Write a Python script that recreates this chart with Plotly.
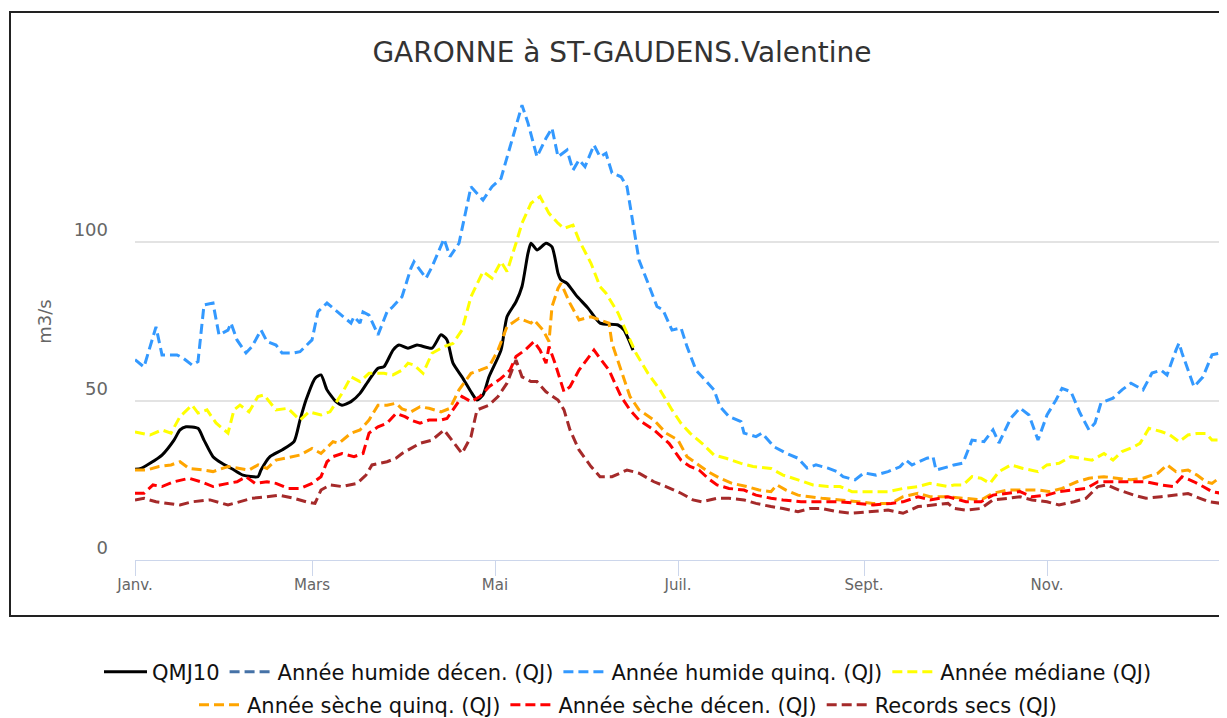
import pandas as pd
import plotly.graph_objects as go

YEAR_START = pd.Timestamp("2023-01-01")

# (day of year, m3/s)
qmj10 = [(0,28.5),(2,28.8),(5,30.4),(9,33),(13,37.7),(15,40.9),(17,41.9),(21,41.4),(23,37.7),(26,32.5),
         (29,30.4),(33,28.3),(36,26.7),(41,26.2),(42,28.3),(45,32.5),(49,34.6),(53,37.2),(55,44),(57,50.3),
         (60,57.1),(62,58.2),(64,53.5),(67,49.8),(69,48.7),(72,49.8),(75,52.4),(78,56.6),(81,60.3),(83,60.8),
         (86,66),(88,67.6),(91,66.6),(94,67.6),(99,66.6),(102,70.8),(104,69.2),(106,61.9),(109,57.6),(112,52.9),
         (114,50.3),(116,51.9),(118,57.6),(122,66),(124,76.5),(127,81.2),(129,86),(131,96.5),(132,99.6),(134,97.5),
         (137,99.6),(139,98.5),(141,90.2),(142,88.1),(144,87),(147,83.3),(151,79.2),(155,74.5),(161,73.9),(163,72.3),
         (166,66)]

humide_decen = []  # listed in the legend, no curve drawn in the reference

humide_quinq = [(0,63),(3,60.7),(7,73.3),(9,64.5),(14,64.5),(16,63.5),(19,61.3),(21,62.4),(23,80.2),(26,80.8),
                (28,70.8),(31,72.3),(32,74.5),(34,69.2),(37,65.1),(39,67.1),(42,72.3),(44,68.7),(47,67.6),(49,65.1),
                (53,65.1),(55,65.5),(59,69.2),(61,78.1),(64,80.8),(68,77.7),(72,74.5),(73,76.5),(75,74.5),(76,78),
                (78,77),(81,70.8),(84,78),(86,79.7),(89,82.8),(92,91.8),(93,93.8),(97,88.6),(99,92.2),(103,101),
                (105,95.4),(108,99.6),(112,117.4),(116,113.2),(119,117.4),(122,120),(124,126.8),(127,136.3),(129,143),(131,137.4),
                (134,126.8),(137,132.6),(139,135.8),(141,126.8),(144,128.9),(146,122.6),(148,125.8),(150,123.7),(153,130.5),(155,126.8),
                (157,127.9),(159,121.7),(162,120.5),(164,117.4),(166,106),(168,94.3),(171,87.1),(174,79.7),(176,78.6),(178,74.5),
                (179,72.3),(182,73),(184,67.1),(187,59.7),(191,55.6),(193,53.5),(195,48.2),(198,45.1),(202,43.5),(203,39.9),
                (207,38.8),(209,39.9),(213,35.6),(217,33.6),(221,32),(224,28.9),(227,29.9),(231,28.9),(234,27.8),(236,26.2),
                (240,25.2),(243,27.4),(247,26.7),(251,27.8),(255,29.3),(257,31.4),(259,29.9),(264,32),(266,32.5),(267,28.3),
                (271,29.3),(273,29.9),(276,30.5),(279,37.7),(283,37.2),(286,40.9),(288,36.8),(292,44.7),(295,47.8),(298,45.6),
                (301,37.7),(304,45.6),(307,50.3),(309,54),(312,52.9),(315,46.2),(318,40.9),(320,43.1),(322,49.4),(326,50.9),
                (329,53.5),(332,55.6),(336,53.5),(339,58.8),(342,59.7),(344,58.2),(347,66),(348,68.2),(349,65.1),(353,54.5),
                (356,57.6),(359,64.5),(362,65.1)]

mediane = [(0,40.3),(5,39.3),(9,40.9),(12,39.9),(15,45.1),(19,48.7),(21,46.2),(24,47.2),(27,43.1),(31,39.9),
           (33,47.2),(35,48.7),(38,46.6),(41,51.4),(43,51.9),(47,47.2),(51,47.7),(55,44),(58,46.6),(62,45.6),
           (65,46.6),(69,52.4),(72,57.6),(75,56.1),(78,58.7),(83,58.7),(86,58.2),(89,59.7),(91,61.9),(93,61.3),
           (96,58.7),(99,65),(103,67.1),(106,68.1),(109,72.3),(112,82.8),(116,90.7),(119,88.6),(122,93.8),(124,90.7),
           (127,99.6),(129,105.9),(132,112.2),(135,114.3),(138,109),(141,105.9),(143,104.3),(146,105.3),(148,100.6),(152,93.3),
           (155,86),(157,83.9),(161,77.7),(164,71.3),(167,65),(171,58.7),(175,53.5),(179,47.2),(182,43),(185,39.9),
           (189,36.7),(193,33),(197,32),(202,30.4),(206,29.4),(212,28.8),(216,26.7),(221,25.2),(226,23.6),(231,23.1),
           (235,23.1),(239,21.5),(245,21.5),(251,21.5),(256,22.5),(261,23.1),(265,24.1),(271,23.1),(273,23.6),(276,23.6),
           (279,26.2),(282,25.7),(285,24.1),(288,27.8),(292,29.9),(296,28.8),(301,27.8),(304,29.9),(308,30.4),(312,32.5),
           (315,32),(319,31.4),(323,33.5),(326,31.4),(329,34.1),(333,35.6),(335,36.7),(338,41.4),(342,40.4),(345,39.3),
           (348,37.2),(351,39.3),(354,39.8),(357,39.8),(359,37.7),(362,37.7)]

seche_quinq = [(0,28.3),(4,28.3),(8,29.4),(12,29.9),(15,30.9),(18,28.8),(23,28.3),(26,27.8),(31,29.4),(35,28.8),
               (38,28.3),(41,29.9),(44,28.8),(47,31.4),(52,32.5),(55,33),(59,35.1),(62,33.5),(66,37.2),(68,36.7),
               (72,39.9),(75,40.9),(78,44),(81,48.7),(84,48.7),(87,49.3),(89,47.5),(92,46.6),(95,48.2),(98,47.7),
               (102,46.6),(105,47.7),(108,53.5),(112,58.7),(115,59.7),(118,60.8),(121,66),(124,73.4),(128,76),(132,74.5),
               (133,75.5),(136,72.3),(138,68.7),(139,79.7),(141,85.4),(142,87),(145,80.7),(148,75.5),(152,76.5),(155,75.5),
               (158,74.5),(159,68.1),(162,59.7),(165,51.4),(168,47.2),(173,44),(177,39.9),(181,37.7),(184,32.5),(187,30.4),
               (191,27.8),(195,25.7),(199,24.1),(204,23.1),(208,22),(212,21.5),(214,23.6),(217,22),(221,20.4),(225,19.9),
               (229,19.4),(235,18.9),(241,18.3),(246,17.8),(252,17.8),(256,19.9),(261,21),(265,19.9),(271,19.9),(277,19.4),
               (282,18.9),(286,21),(291,22),(296,22),(301,22),(305,21.5),(309,22.5),(314,24.6),(318,25.7),(323,26.2),
               (327,25.7),(332,25.2),(336,25.7),(341,27.3),(344,29.9),(347,27.8),(351,28.3),(354,26.7),(357,24.6),(359,24.1),
               (362,26.2)]

seche_decen = [(0,21),(3,21),(6,23.6),(9,23.1),(13,24.6),(18,25.7),(22,24.6),(26,23.1),(31,24.1),(34,24.6),
               (37,26.2),(40,24.1),(44,24.6),(47,24.1),(51,22.5),(55,22.5),(59,24.1),(62,26.2),(64,30.9),(66,32.5),
               (69,33.5),(73,32.5),(76,33.5),(78,39.9),(81,41.9),(84,43),(87,46.1),(90,45.1),(92,44),(95,43),
               (98,44),(102,44),(104,44.5),(106,47.2),(109,51.4),(112,49.8),(115,51.4),(118,54.5),(122,57.1),(125,59.7),
               (127,64),(130,66),(133,68.7),(135,66),(137,61.9),(138,67.1),(140,61.9),(143,52.9),(145,54.5),(148,59.7),
               (153,66),(155,63.4),(158,59.7),(162,51.4),(165,47.2),(168,44),(173,40.9),(178,36.7),(182,31.4),(185,29.4),
               (188,28.3),(191,25.7),(194,23.6),(198,22.5),(203,22),(207,20.4),(212,19.4),(216,18.9),(222,18.3),(228,18.3),
               (235,18.3),(241,17.8),(246,17.3),(252,17.8),(256,18.3),(261,19.9),(265,18.9),(271,19.9),(277,18.3),(282,18.3),
               (286,20.4),(291,21),(295,21.5),(299,19.9),(304,20.4),(308,21.5),(313,22),(317,22.5),(321,24.6),(324,24.6),
               (328,24.6),(333,24.6),(337,24.6),(342,23.6),(346,23.1),(349,26.2),(353,24.6),(356,23.1),(359,21.5),(362,21)]

records_secs = [(0,18.9),(3,19.4),(7,18.3),(11,17.8),(15,17.3),(19,18.3),(25,18.9),(31,17.3),(35,18.3),(39,19.4),
                (44,19.9),(48,20.4),(53,19.4),(57,18.3),(60,17.8),(62,22),(65,23.6),(69,23.1),(74,24.1),(77,26.7),
                (79,29.9),(84,30.9),(87,32),(89,33.5),(92,35.1),(95,36.7),(99,37.7),(103,40.9),(106,37.2),(109,33.5),
                (112,38.8),(114,47.2),(118,48.7),(121,51.4),(124,55.6),(127,62.9),(129,57.6),(132,56.1),(134,56.1),(137,52.9),
                (141,50.3),(143,47.2),(145,40.9),(148,34.6),(152,29.4),(155,26.2),(159,26.2),(164,28.3),(168,27.3),(173,24.6),
                (177,23.1),(182,21),(186,18.9),(189,18.3),(194,19.4),(198,19.4),(203,18.9),(207,17.8),(212,16.8),(216,16.2),
                (221,15.2),(225,16.2),(229,16.2),(234,15.2),(239,14.7),(245,15.2),(251,15.7),(256,14.7),(261,16.8),(266,17.3),
                (271,17.8),(273,16.2),(277,15.7),(282,16.2),(286,18.9),(291,19.4),(295,19.9),(299,18.9),(304,18.3),(308,17.3),
                (313,18.3),(317,19.4),(321,23.1),(324,23.6),(328,22),(333,20.4),(337,19.4),(342,19.9),(346,20.4),(351,20.9),
                (355,19.4),(358,18.3),(362,17.8)]

month_ticks = ["2023-01-01", "2023-03-01", "2023-05-01", "2023-07-01", "2023-09-01", "2023-11-01"]
month_labels = ["Janv.", "Mars", "Mai", "Juil.", "Sept.", "Nov."]
y_ticks = [0, 50, 100, 150]
y_labels = ["0", "50", "100", ""]

series = [
    ("QMJ10", qmj10, "#000000", "solid", "legend"),
    ("Année humide décen. (QJ)", humide_decen, "#4572A7", "10px,5px", "legend"),
    ("Année humide quinq. (QJ)", humide_quinq, "#3399FF", "10px,5px", "legend"),
    ("Année médiane (QJ)", mediane, "#FFFF00", "10px,5px", "legend"),
    ("Année sèche quinq. (QJ)", seche_quinq, "#FFA500", "10px,5px", "legend2"),
    ("Année sèche décen. (QJ)", seche_decen, "#FF0000", "10px,5px", "legend2"),
    ("Records secs (QJ)", records_secs, "#A52A2A", "10px,5px", "legend2"),
]


def to_xy(pairs):
    if not pairs:
        return [None], [None]
    xs = [YEAR_START + pd.Timedelta(days=d) for d, _ in pairs]
    ys = [v for _, v in pairs]
    return xs, ys


fig = go.Figure()
for name, pairs, color, dash, leg in series:
    xs, ys = to_xy(pairs)
    line = dict(color=color, width=3, dash=dash)
    if name == "QMJ10":
        line.update(shape="spline", smoothing=0.6)
    fig.add_trace(go.Scatter(x=xs, y=ys, mode="lines", name=name, line=line,
                             legend=leg, hoverinfo="skip"))

OFF = 8  # page body margin in the browser
W, H = 1227 - OFF, 718 - OFF
L, R, T = 135 - OFF, 0, 83 - OFF
B = H - (560 - OFF)
pw, ph = W - L - R, H - T - B


def scr_to_paper(x, y):
    return (x - OFF - L) / pw, (H - B - (y - OFF)) / ph


x0, y0 = scr_to_paper(10, 12)
x1, y1 = scr_to_paper(1245, 616)

fig.update_layout(
    width=W, height=H,
    margin=dict(l=L, r=R, t=T, b=B),
    paper_bgcolor="white", plot_bgcolor="white",
    font=dict(family="DejaVu Sans", color="#666666"),
    title=dict(text="GARONNE à ST-GAUDENS.Valentine", x=(622 - OFF) / W, xref="container", xanchor="center",
               y=1 - (52 - OFF) / H, yref="container", yanchor="middle",
               font=dict(size=28, color="#333333", family="DejaVu Sans")),
    xaxis=dict(range=["2023-01-01", "2023-12-31"], tickvals=month_ticks, ticktext=month_labels,
               showgrid=False, zeroline=False, showline=True, linecolor="#ccd6eb", linewidth=1,
               ticks="outside", ticklen=15, tickcolor="#ccd6eb", tickwidth=1,
               tickfont=dict(size=15, color="#666666"), ticklabelstandoff=-4),
    yaxis=dict(range=[0, 150], tickvals=y_ticks, ticktext=y_labels, showgrid=True,
               gridcolor="#e3e3e3", gridwidth=1.5, zeroline=False, showline=False, ticks="",
               tickfont=dict(size=18, color="#666666"), ticklabelstandoff=26, ticklabelshift=-12,
               title=dict(text="m3/s", font=dict(size=18, color="#666666"), standoff=17)),
    legend=dict(orientation="h", xref="container", x=(628 - OFF) / W, xanchor="center",
                yref="container", y=1 - (672 - OFF) / H, yanchor="middle", itemwidth=43,
                font=dict(size=21, color="#111111"), bgcolor="rgba(0,0,0,0)"),
    legend2=dict(orientation="h", xref="container", x=(628 - OFF) / W, xanchor="center",
                 yref="container", y=1 - (705 - OFF) / H, yanchor="middle", itemwidth=43,
                 font=dict(size=21, color="#111111"), bgcolor="rgba(0,0,0,0)"),
    shapes=[dict(type="rect", xref="paper", yref="paper", x0=x0, x1=x1, y0=y0, y1=y1,
                 line=dict(color="#222222", width=2), fillcolor="rgba(0,0,0,0)", layer="above")],
    showlegend=True,
)

fig.write_html("out.html")
